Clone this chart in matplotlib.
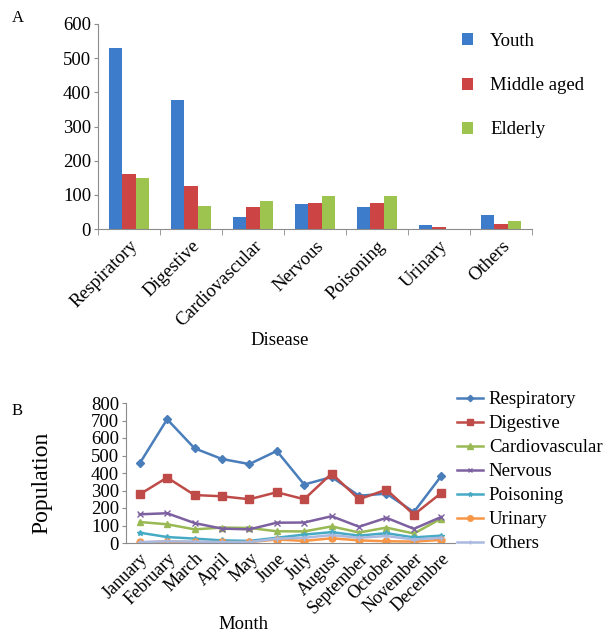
#disease charts: by age group (A) and by month (B)
import matplotlib
matplotlib.use("Agg")
import matplotlib.pyplot as plt
import numpy as np

plt.rcParams["font.family"] = ["Liberation Serif", "DejaVu Serif"]

#data for panel A
diseases = ["Respiratory", "Digestive", "Cardiovascular", "Nervous", "Poisoning", "Urinary", "Others"]
youth = [531, 379, 35, 74, 65, 12, 42]
middle_aged = [162, 125, 65, 77, 77, 6, 14]
elderly = [150, 67, 81, 97, 97, 1, 22]

#data for panel B
months = ["January", "February", "March", "April", "May", "June", "July",
          "August", "September", "October", "November", "Decembre"]
respiratory = [455, 707, 541, 480, 451, 526, 334, 377, 270, 282, 177, 383]
digestive = [278, 374, 274, 267, 250, 290, 250, 397, 250, 305, 162, 286]
cardiovascular = [120, 107, 78, 88, 86, 67, 66, 95, 60, 88, 54, 140]
nervous = [164, 170, 114, 82, 78, 116, 117, 153, 93, 144, 81, 149]
poisoning = [59, 34, 25, 15, 12, 30, 48, 62, 42, 56, 32, 42]
urinary = [3, 8, 5, 5, 5, 20, 12, 27, 15, 10, 8, 18]
others = [5, 10, 8, 5, 5, 25, 30, 45, 30, 40, 20, 30]

W, H = 603, 637
fig = plt.figure(figsize=(W / 100, H / 100), dpi=100)
fig.patch.set_facecolor("white")

def box(left, top, right, bottom):
    return [left / W, 1 - bottom / H, (right - left) / W, (bottom - top) / H]

axis_grey = "#8c8c8c"
fs = 13.5

#panel A - grouped bars
ax1 = fig.add_axes(box(98, 24, 532, 229))
x = np.arange(len(diseases))
bw = 0.22
ax1.bar(x - bw, youth, bw, color="#3d7bcb", label="Youth")
ax1.bar(x, middle_aged, bw, color="#cd4444", label="Middle aged")
ax1.bar(x + bw, elderly, bw, color="#9cc44f", label="Elderly")
ax1.set_xlim(-0.5, len(diseases) - 0.5)
ax1.set_ylim(0, 600)
ax1.set_yticks(range(0, 601, 100))
ax1.set_xticks(x)
ax1.set_xticklabels(diseases, rotation=45, ha="right", rotation_mode="anchor", fontsize=fs)
ax1.set_xticks(np.arange(-0.5, len(diseases)), minor=True)
ax1.tick_params(axis="x", which="major", length=0, pad=6)
ax1.tick_params(axis="x", which="minor", length=4, color=axis_grey, direction="out")
ax1.tick_params(axis="y", length=3, color=axis_grey, labelsize=fs, pad=2)
for s in ["top", "right"]:
    ax1.spines[s].set_visible(False)
for s in ["left", "bottom"]:
    ax1.spines[s].set_color(axis_grey)
ax1.set_xlabel("Disease", fontsize=fs)
ax1.xaxis.set_label_coords((280 - 98) / 434, (229 - 332) / 205)
ax1.legend(loc="upper left", bbox_to_anchor=(462 / W, 1 - 33 / H), bbox_transform=fig.transFigure,
           frameon=False, fontsize=fs, handlelength=0.6, handleheight=0.6, labelspacing=1.45,
           handletextpad=0.9, borderpad=0, borderaxespad=0)
fig.text(12 / W, 1 - 18 / H, "A", fontsize=12, va="center")

#panel B - monthly lines
ax2 = fig.add_axes(box(126, 403, 455, 543))
xm = np.arange(len(months))
series = [
    ("Respiratory", respiratory, "#4a7ebb", "D", 4),
    ("Digestive", digestive, "#be4b48", "s", 6),
    ("Cardiovascular", cardiovascular, "#98b954", "^", 5),
    ("Nervous", nervous, "#7d60a0", "x", 4),
    ("Poisoning", poisoning, "#46aac5", "*", 4),
    ("Urinary", urinary, "#f79646", "o", 5),
    ("Others", others, "#aab9e0", "+", 4),
]
for name, vals, col, mk, ms in series:
    ax2.plot(xm, vals, color=col, marker=mk, markersize=ms, lw=1.8, label=name)
ax2.set_xlim(-0.5, len(months) - 0.5)
ax2.set_ylim(0, 800)
ax2.set_yticks(range(0, 801, 100))
ax2.set_xticks(xm)
ax2.set_xticklabels(months, rotation=45, ha="right", rotation_mode="anchor", fontsize=13)
ax2.tick_params(axis="x", length=0, pad=5)
ax2.tick_params(axis="y", length=3, color=axis_grey, labelsize=fs, pad=2)
for s in ["top", "right"]:
    ax2.spines[s].set_visible(False)
for s in ["left", "bottom"]:
    ax2.spines[s].set_color(axis_grey)
ax2.set_xlabel("Month", fontsize=fs)
ax2.xaxis.set_label_coords((243 - 126) / 329, (543 - 616) / 140)
ax2.set_ylabel("Population", fontsize=17)
ax2.yaxis.set_label_coords((52 - 126) / 329, (543 - 483) / 140)
ax2.legend(loc="upper left", bbox_to_anchor=(457 / W, 1 - 391 / H), bbox_transform=fig.transFigure,
           frameon=False, fontsize=fs, handlelength=1.4, labelspacing=0.37, handletextpad=0.3,
           markerscale=0.8, borderpad=0, borderaxespad=0)
fig.text(12 / W, 1 - 411 / H, "B", fontsize=12, va="center")

fig.savefig("out.png", dpi=100, facecolor="white")
